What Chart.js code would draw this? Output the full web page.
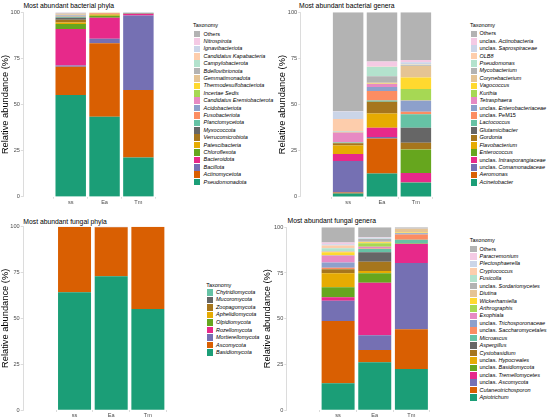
<!DOCTYPE html>
<html><head><meta charset="utf-8">
<script src="https://cdn.jsdelivr.net/npm/chart.js@4.4.1/dist/chart.umd.min.js"></script>
<style>
html,body{margin:0;padding:0;background:#fff;}
#wrap{position:relative;width:550px;height:420px;overflow:hidden;font-family:"Liberation Sans",Arial,sans-serif;}
canvas{position:absolute;}
.ttl{position:absolute;font-size:6.8px;color:#000;white-space:nowrap;line-height:8px;}
.lg{position:absolute;font-size:5.5px;color:#000;white-space:nowrap;line-height:7px;}
.key{position:absolute;width:6.6px;height:6.6px;}
</style></head><body><div id="wrap"></div>
<script>
const FONT = '"Liberation Sans", Arial, sans-serif';
const samples = ['ss', 'Ea', 'Tm'];
const yTicks = [0, 25, 50, 75, 100];
const palette = ['#1B9E77','#D95F02','#7570B3','#E7298A','#66A61E','#E6AB02','#A6761D','#666666',
  '#66C2A5','#FC8D62','#8DA0CB','#E78AC3','#A6D854','#FFD92F','#E5C494','#B3B3B3',
  '#B3E2CD','#FDCDAC','#CBD5E8','#F4CAE4','#B3B3B3'];

// ---- Most abundant bacterial phyla (stack order: bottom first) ----
const bactPhyla = ['_Pseudomonadota_','_Actinomycetota_','_Bacillota_','_Bacteroidota_','_Chloroflexota_',
  '_Patescibacteria_','_Verrucomicrobiota_','_Myxococcota_','_Planctomycetota_','_Fusobacteriota_',
  '_Acidobacteriota_','_Candidatus Eremiobacterota_','_Incertae Sedis_','_Thermodesulfobacteriota_',
  '_Gemmatimonadota_','_Bdellovibrionota_','_Campylobacterota_','_Candidatus Kapabacteria_',
  '_Ignavibacteriota_','_Nitrospirota_','Others'];
const bactPhylaSS = [55.2,15.3,0.6,19.9,2.6,0.9,1.4,1.2,0.5,0.3,0.4,0.1,0.1,0.1,0.3,0.4,0.1,0.2,0.2,0.1,0.1];
const bactPhylaEA = [43.4,39.8,2.5,11.3,1.1,0.7,0.1,0.05,0.05,0.5,0.1,0.02,0.05,0.02,0.1,0.02,0.02,0.1,0.02,0.02,0.03];
const bactPhylaTM = [21.3,36.6,40.4,0.9,0.1,0.05,0.05,0.05,0.2,0.02,0.02,0.02,0.02,0.02,0.02,0.02,0.1,0.02,0.02,0.02,0.05];

// ---- Most abundant bacterial genera ----
const bactGenera = ['_Acinetobacter_','_Aeromonas_','unclas. _Comamonadaceae_','unclas. _Intrasporangiaceae_',
  '_Enterococcus_','_Flavobacterium_','_Gordonia_','_Glutamicibacter_','_Lactococcus_','unclas. PeM15',
  'unclas. _Enterobacteriaceae_','_Tetrasphaera_','_Kurthia_','_Vagococcus_','_Corynebacterium_',
  '_Mycobacterium_','_Pseudomonas_','_OLB8_','unclas. _Saprospiraceae_','unclas. _Actinobacteria_','Others'];
const bactGeneraSS = [1.8,0.6,17.0,3.8,0.1,4.5,1.3,0.1,0.3,0.1,0.1,5.2,0.1,0.1,0.1,0.1,0.3,6.6,4.1,0.1,53.6];
const bactGeneraEA = [12.7,19.0,0.8,4.9,0.1,7.7,6.3,0.1,0.6,5.2,2.2,1.5,0.1,0.1,0.5,3.6,5.0,0.1,0.1,2.7,26.7];
const bactGeneraTM = [7.6,0.2,0.3,4.9,12.7,0.1,3.5,8.1,7.4,1.3,6.0,0.1,6.3,6.2,6.2,0.4,0.3,0.2,1.1,1.2,25.9];

// ---- Most abundant fungal phyla ----
const fungPhyla = ['_Basidiomycota_','_Ascomycota_','_Mortierellomycota_','_Rozellomycota_','_Olpidiomycota_',
  '_Aphelidiomycota_','_Zoopagomycota_','_Mucoromycota_','_Chytridiomycota_'];
const fungPhylaSS = [64.2,35.7,0.05,0.01,0.01,0.01,0.01,0.01,0.0];
const fungPhylaEA = [72.9,26.8,0.25,0.01,0.01,0.01,0.01,0.01,0.0];
const fungPhylaTM = [55.1,44.85,0.03,0.0,0.01,0.0,0.0,0.01,0.0];

// ---- Most abundant fungal genera ----
const fungGenera = ['_Apiotrichum_','_Cutaneotrichosporon_','unclas. _Ascomycota_','unclas. _Tremellomycetes_',
  'unclas. _Basidiomycota_','unclas. _Hypocreales_','_Cystobasidium_','_Aspergillus_','_Microascus_',
  'unclas. _Saccharomycetales_','unclas. _Trichosporonaceae_','_Exophiala_','_Arthrographis_',
  '_Wickerhamiella_','_Diutina_','unclas. _Sordariomycetes_','_Fusicolla_','_Cryptococcus_',
  '_Plectosphaerella_','_Paracremonium_','Others'];
const fungGeneraSS = [14.6,34.1,11.1,1.9,5.5,7.6,2.2,0.1,0.1,0.7,2.9,3.7,0.3,1.5,0.4,0.3,1.5,1.6,0.6,1.0,8.3];
const fungGeneraEA = [26.1,6.7,8.1,28.8,5.1,1.3,5.1,5.1,1.8,0.3,0.2,0.8,1.9,0.5,0.3,1.5,0.1,0.1,0.5,0.2,5.5];
const fungGeneraTM = [22.4,21.8,36.2,10.5,0.1,0.0,0.1,0.1,2.0,2.9,0.6,0.1,0.1,0.2,2.0,0.1,0.0,0.1,0.1,0.0,0.6];

const wrap = document.getElementById('wrap');

function markup(s){
  return s.replace(/_([^_]+)_/g, '<i>$1</i>');
}
function plain(s){ return s.replace(/_/g,''); }

function addText(cls, html, x, y){
  const d = document.createElement('div');
  d.className = cls; d.innerHTML = html;
  d.style.left = x + 'px'; d.style.top = y + 'px';
  wrap.appendChild(d);
}

function panel(p){
  // title
  addText('ttl', p.title, p.titleX, p.titleY - 4);
  // canvas
  const c = document.createElement('canvas');
  c.width = p.cw; c.height = p.ch;
  c.style.left = p.cl + 'px'; c.style.top = p.ct + 'px';
  c.style.width = p.cw + 'px'; c.style.height = p.ch + 'px';
  wrap.appendChild(c);
  const datasets = p.taxa.map((t, i) => ({
    label: plain(t),
    data: [p.ss[i], p.ea[i], p.tm[i]],
    backgroundColor: palette[i === p.taxa.length - 1 && p.taxa.length === 21 ? 20 : i],
    borderWidth: 0,
    stack: 's',
    barPercentage: 0.9,
    categoryPercentage: 1
  }));
  new Chart(c, {
    type: 'bar',
    data: { labels: samples.map((s, i) => i + 1), datasets },
    options: {
      responsive: false, animation: false,
      layout: { padding: { left: 0, right: p.pr, top: p.pt, bottom: 0 } },
      plugins: { legend: { display: false }, tooltip: { enabled: false } },
      scales: {
        x: {
          type: 'linear', min: 0.4, max: 3.6,
          afterBuildTicks: s => { s.ticks = samples.map((_, i) => ({ value: i + 1 })); },
          afterFit: s => { s.height = p.xh; },
          ticks: { callback: v => samples[Math.round(v) - 1], font: { size: 5.6, family: FONT },
                   color: '#4d4d4d', padding: 0, maxRotation: 0, autoSkip: false },
          grid: { drawOnChartArea: false, tickLength: 2, color: '#c4c4c4', lineWidth: 0.6 },
          border: { display: false }
        },
        y: {
          stacked: true, min: 0, max: 100,
          afterBuildTicks: s => { s.ticks = yTicks.map(v => ({ value: v })); },
          afterFit: s => { s.width = p.yw; },
          ticks: { font: { size: 5.6, family: FONT }, color: '#4d4d4d', padding: 1 },
          grid: { drawOnChartArea: false, tickLength: 2.5, color: '#c4c4c4', lineWidth: 0.6 },
          border: { display: true, color: '#c4c4c4', width: 0.6 },
          title: { display: true, text: 'Relative abundance (%)', font: { size: 9.3, family: FONT },
                   color: '#000', padding: 0 }
        }
      }
    }
  });
  // legend
  addText('lg', 'Taxonomy', p.keyX - 0.5, p.legTitleY - 3.5);
  const n = p.taxa.length;
  for (let k = 0; k < n; k++) {
    const idx = n - 1 - k;
    const cy = p.legY0 + k * p.legStep;
    const key = document.createElement('div');
    key.className = 'key';
    key.style.left = p.keyX + 'px'; key.style.top = (cy - 3.3) + 'px';
    key.style.background = palette[idx === n - 1 && n === 21 ? 20 : idx];
    wrap.appendChild(key);
    addText('lg', markup(p.taxa[idx]), p.textX, cy - 3.5);
  }
}

panel({ title: 'Most abundant bacterial phyla', titleX: 23.4, titleY: 6.2,
  cl: 0, ct: 0, cw: 190, ch: 210, yw: 23.35, pr: 4.25, pt: 12.3, xh: 13.3,
  taxa: bactPhyla, ss: bactPhylaSS, ea: bactPhylaEA, tm: bactPhylaTM,
  keyX: 193.5, textX: 203.5, legTitleY: 25.7, legY0: 34, legStep: 7.41 });

panel({ title: 'Most abundant bacterial genera', titleX: 299, titleY: 6.3,
  cl: 277, ct: 0, cw: 191, ch: 210, yw: 23.7, pr: 4.7, pt: 12.3, xh: 13.1,
  taxa: bactGenera, ss: bactGeneraSS, ea: bactGeneraEA, tm: bactGeneraTM,
  keyX: 470.5, textX: 479.5, legTitleY: 25.3, legY0: 33.8, legStep: 7.43 });

panel({ title: 'Most abundant fungal phyla', titleX: 23.3, titleY: 221.7,
  cl: 0, ct: 210, cw: 202, ch: 210, yw: 23.2, pr: 2.8, pt: 16.7, xh: 10,
  taxa: fungPhyla, ss: fungPhylaSS, ea: fungPhylaEA, tm: fungPhylaTM,
  keyX: 206.7, textX: 216, legTitleY: 285, legY0: 292.3, legStep: 7.55 });

panel({ title: 'Most abundant fungal genera', titleX: 287.5, titleY: 220.7,
  cl: 262, ct: 210, cw: 205, ch: 210, yw: 24.8, pr: 4.3, pt: 17.3, xh: 10,
  taxa: fungGenera, ss: fungGeneraSS, ea: fungGeneraEA, tm: fungGeneraTM,
  keyX: 470.3, textX: 479.5, legTitleY: 240, legY0: 249, legStep: 7.43 });
</script>
</body></html>
